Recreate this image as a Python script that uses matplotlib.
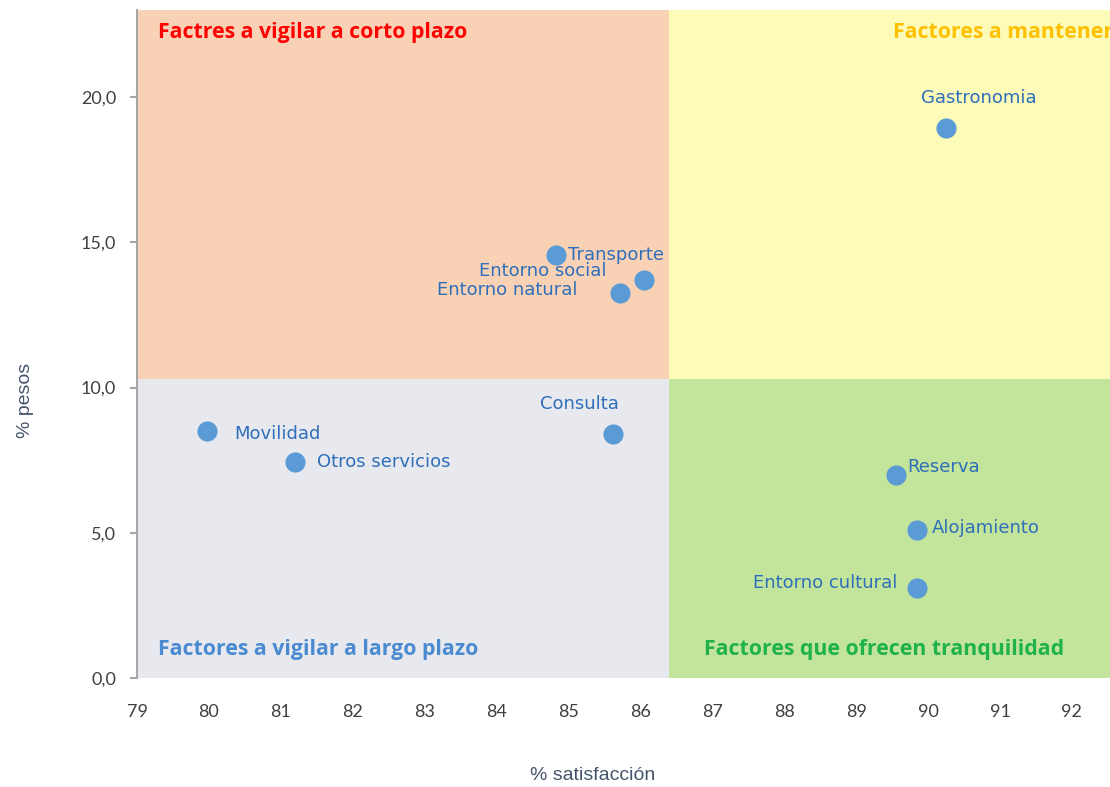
import matplotlib
matplotlib.use("Agg")
import matplotlib.pyplot as plt
from matplotlib.ticker import FuncFormatter

# --- datos ---
factores = ["Gastronomia", "Transporte", "Entorno social", "Entorno natural",
            "Consulta", "Movilidad", "Otros servicios", "Reserva",
            "Alojamiento", "Entorno cultural"]
satisfaccion = [90.25, 84.82, 86.05, 85.72, 85.62, 79.98, 81.2, 89.55, 89.85, 89.85]
pesos = [18.95, 14.55, 13.7, 13.25, 8.4, 8.5, 7.45, 7.0, 5.1, 3.1]

x_corte = 86.4
y_corte = 10.3
x_lim = (79, 92.53)
y_lim = (0, 23.0)
x_ticks = list(range(79, 93))
y_ticks = [0, 5, 10, 15, 20]

cuadrantes = ["Factres a vigilar a corto plazo", "Factores a mantener",
              "Factores a vigilar a largo plazo", "Factores que ofrecen tranquilidad"]

# desplazamiento de cada etiqueta (px) y alineacion
offsets = [(33, 30, "center"), (12, 0, "left"), (-37, 9, "right"), (-43, 3, "right"),
           (-34, 30, "center"), (27, -3, "left"), (22, 0, "left"), (12, 8, "left"),
           (15, 2, "left"), (-20, 5, "right")]

fig = plt.figure(figsize=(11.1, 7.87), dpi=100)
ax = fig.add_axes([137 / 1110, 1 - 678 / 787, 973 / 1110, 668 / 787])

# fondos de los cuadrantes
ax.axvspan(x_lim[0], x_corte, ymin=y_corte / y_lim[1], ymax=1, color="#F9D2B5", lw=0, zorder=0)
ax.axvspan(x_corte, x_lim[1], ymin=y_corte / y_lim[1], ymax=1, color="#FCFBB8", lw=0, zorder=0)
ax.axvspan(x_lim[0], x_corte, ymin=0, ymax=y_corte / y_lim[1], color="#E7E9EE", lw=0, zorder=0)
ax.axvspan(x_corte, x_lim[1], ymin=0, ymax=y_corte / y_lim[1], color="#C3E49B", lw=0, zorder=0)

ax.scatter(satisfaccion, pesos, s=210, color="#5B9BD5", zorder=3, linewidths=0)

for nombre, x, y, (dx, dy, ha) in zip(factores, satisfaccion, pesos, offsets):
    ax.annotate(nombre, (x, y), xytext=(dx, dy), textcoords="offset pixels",
                ha=ha, va="center", fontsize=13, color="#2F6EBA",
                family=["Liberation Sans Narrow", "DejaVu Sans"], zorder=4)

titulo_kw = dict(transform=ax.transAxes, fontsize=15.3, fontweight="bold",
                 family=["Open Sans", "DejaVu Sans"], va="center", ha="left", clip_on=False)
ax.text(0.0216, 0.966, cuadrantes[0], color="#FF0000", **titulo_kw)
ax.text(0.777, 0.966, cuadrantes[1], color="#FFC000", **titulo_kw)
ax.text(0.0216, 0.042, cuadrantes[2], color="#4A8AD0", **titulo_kw)
ax.text(0.583, 0.042, cuadrantes[3], color="#1FB24A", **titulo_kw)

ax.set_xlim(*x_lim)
ax.set_ylim(*y_lim)
ax.set_xticks(x_ticks)
ax.set_yticks(y_ticks)
ax.yaxis.set_major_formatter(FuncFormatter(lambda v, p: f"{v:.1f}".replace(".", ",")))

for s in ["top", "right", "bottom"]:
    ax.spines[s].set_visible(False)
ax.spines["left"].set_color("#A6A6A6")
ax.spines["left"].set_linewidth(1.5)
ax.tick_params(axis="y", length=5, color="#A6A6A6", width=1.5, pad=10,
               labelsize=13, labelcolor="#404040")
ax.tick_params(axis="x", length=0, pad=19, labelsize=13, labelcolor="#404040")
for lab in ax.get_xticklabels() + ax.get_yticklabels():
    lab.set_family(["Lato", "DejaVu Sans"])

fig.text(593 / 1110, 1 - 775 / 787, "% satisfacción", ha="center", va="center",
         fontsize=14, color="#44546A", family=["Liberation Sans", "DejaVu Sans"])
fig.text(25 / 1110, 1 - 400 / 787, "% pesos", ha="center", va="center", rotation=90,
         fontsize=14, color="#44546A", family=["Liberation Sans", "DejaVu Sans"])

fig.savefig("out.png", dpi=100)
